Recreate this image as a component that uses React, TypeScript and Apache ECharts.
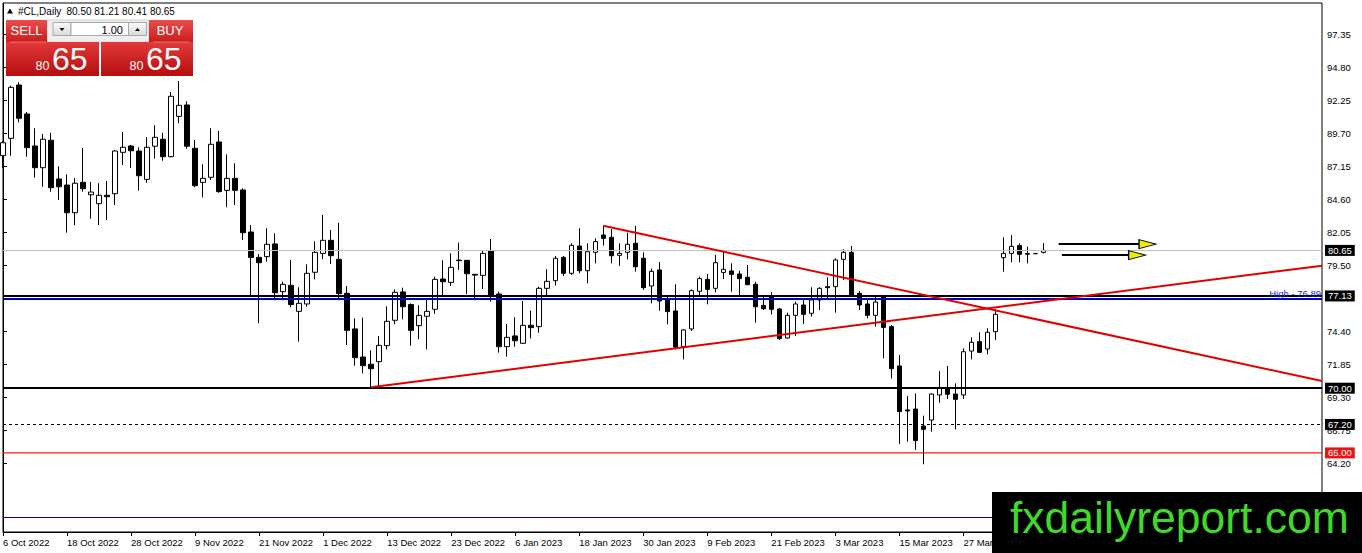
import React, { useEffect, useRef } from "react";
import * as echarts from "echarts";

// ---- Data (daily #CL candles, index 0 = 6 Oct 2022) ----
const opens = [
  87.97, 89.31, 93.43, 91.19, 88.72, 87.04, 89.16, 86.17, 85.70, 83.56,
  85.91, 84.95, 84.26, 84.91, 85.03, 88.23, 88.72, 88.33, 86.14, 88.70,
  89.24, 87.89, 91.01, 91.89, 88.54, 85.91, 86.30, 89.03, 85.29, 86.22,
  85.32, 82.07, 80.11, 80.17, 81.15, 77.46, 77.95, 75.94, 76.51, 78.96,
  80.42, 81.43, 79.96, 77.33, 74.58, 72.41, 71.85, 72.05, 73.29, 75.25,
  77.44, 76.46, 74.83, 75.56, 76.10, 78.44, 78.18, 79.90, 79.88, 78.80,
  78.72, 80.60, 77.28, 73.21, 74.04, 73.47, 74.86, 74.76, 77.72, 78.31,
  80.11, 78.88, 80.99, 79.08, 80.50, 81.84, 81.66, 80.27, 80.50, 81.20,
  80.04, 77.90, 79.14, 76.82, 75.97, 73.21, 74.58, 77.49, 78.41, 77.72,
  78.95, 79.06, 78.83, 78.57, 78.03, 76.40, 77.07, 76.12, 73.88, 75.63,
  76.43, 75.79, 76.82, 77.85, 77.85, 79.96, 80.50, 77.33, 76.51, 75.63,
  77.13, 74.76, 71.72, 68.32, 68.39, 67.08, 67.54, 69.48, 69.99, 69.55,
  69.48, 72.87, 73.60, 73.03, 74.37, 80.09, 80.42, 81.02, 80.40, 80.40,
  80.50,
];
const closes = [
  88.97, 93.25, 90.86, 88.59, 87.04, 89.24, 85.50, 85.57, 83.56, 85.84,
  85.42, 85.16, 84.91, 84.80, 88.33, 88.62, 88.35, 86.42, 88.62, 89.39,
  87.89, 92.56, 91.86, 88.70, 85.65, 86.22, 88.85, 85.19, 86.22, 85.29,
  82.02, 80.11, 79.70, 81.12, 77.38, 78.03, 76.46, 76.56, 78.88, 80.50,
  81.43, 80.24, 77.31, 74.47, 72.36, 71.74, 71.51, 73.31, 75.17, 77.41,
  76.30, 74.47, 75.63, 75.94, 78.41, 78.23, 79.34, 79.86, 78.85, 78.74,
  80.42, 77.20, 73.21, 73.93, 73.67, 74.86, 74.68, 77.72, 78.26, 80.04,
  78.88, 81.04, 79.08, 80.55, 81.33, 81.58, 80.24, 80.42, 81.12, 79.39,
  77.77, 79.03, 76.74, 75.92, 73.18, 74.50, 77.54, 78.47, 77.64, 79.70,
  79.19, 78.80, 78.47, 78.00, 76.30, 76.15, 76.10, 73.83, 75.63, 76.51,
  75.71, 76.82, 77.72, 77.77, 79.91, 80.50, 77.20, 76.43, 75.63, 76.66,
  74.70, 71.51, 68.19, 68.24, 65.95, 66.82, 69.55, 69.99, 69.53, 69.14,
  72.82, 73.55, 72.77, 74.32, 75.71, 80.42, 80.96, 80.35, 80.36, 80.40,
  80.65,
];
const lows = [
  87.03, 87.97, 90.55, 87.89, 86.27, 85.57, 85.19, 84.55, 82.02, 82.59,
  85.19, 83.10, 82.61, 83.00, 84.16, 87.25, 87.02, 85.27, 85.88, 87.74,
  87.58, 87.84, 90.47, 88.51, 85.53, 84.75, 86.09, 85.11, 83.98, 84.16,
  81.45, 77.15, 75.01, 79.78, 76.82, 76.95, 76.25, 73.60, 76.30, 78.41,
  79.96, 79.60, 76.82, 73.34, 71.74, 71.15, 70.07, 70.12, 73.00, 74.94,
  75.32, 73.29, 73.78, 73.00, 75.74, 77.08, 77.90, 79.14, 77.28, 76.82,
  77.67, 76.69, 72.75, 72.44, 73.21, 73.42, 73.85, 74.29, 77.20, 77.93,
  78.67, 78.75, 78.88, 78.11, 79.65, 81.02, 79.65, 79.45, 79.96, 79.01,
  77.59, 76.56, 75.99, 74.94, 73.00, 72.23, 74.42, 77.20, 76.48, 77.41,
  78.44, 77.46, 77.20, 77.98, 75.07, 76.04, 75.71, 73.73, 73.83, 74.04,
  74.96, 75.53, 76.04, 76.82, 75.84, 78.36, 77.07, 76.04, 75.40, 74.76,
  72.31, 70.76, 65.69, 65.87, 65.23, 64.12, 66.64, 68.88, 69.17, 66.82,
  69.17, 72.23, 72.75, 72.62, 73.73, 79.01, 79.73, 79.73, 79.65, 80.38,
  80.41,
];
const highs = [
  89.10, 93.38, 93.64, 91.35, 90.09, 89.65, 89.75, 87.15, 86.53, 86.25,
  88.56, 85.94, 85.84, 86.01, 88.41, 89.80, 88.80, 88.62, 89.41, 90.32,
  89.75, 92.89, 93.74, 92.17, 89.18, 87.30, 90.09, 89.88, 88.07, 87.38,
  85.45, 82.61, 80.37, 82.36, 81.97, 78.23, 79.91, 77.80, 79.57, 81.35,
  83.39, 82.23, 82.79, 77.90, 75.40, 75.45, 72.93, 74.04, 76.33, 77.64,
  77.77, 76.56, 76.41, 76.89, 78.62, 79.88, 80.42, 81.25, 79.92, 78.82,
  80.60, 81.53, 77.46, 74.96, 75.48, 76.74, 76.00, 77.85, 79.19, 80.22,
  80.22, 81.20, 82.36, 81.20, 81.58, 82.56, 82.30, 81.20, 82.02, 82.56,
  80.50, 79.24, 79.75, 77.20, 78.03, 74.55, 77.64, 78.62, 78.83, 80.30,
  80.55, 79.65, 79.08, 79.52, 78.23, 77.20, 77.43, 76.20, 75.84, 76.69,
  76.82, 77.80, 77.80, 78.57, 80.04, 80.73, 80.99, 77.51, 76.95, 77.07,
  77.20, 74.88, 72.57, 69.40, 69.60, 67.88, 69.60, 71.33, 71.72, 70.38,
  73.08, 73.93, 74.32, 74.63, 76.12, 81.66, 81.84, 81.20, 80.94, 80.42,
  81.21,
];

// x tick labels, one every 8 bars
const xTickLabels = [
  "6 Oct 2022", "18 Oct 2022", "28 Oct 2022", "9 Nov 2022", "21 Nov 2022",
  "1 Dec 2022", "13 Dec 2022", "23 Dec 2022", "6 Jan 2023", "18 Jan 2023",
  "30 Jan 2023", "9 Feb 2023", "21 Feb 2023", "3 Mar 2023", "15 Mar 2023",
  "27 Mar 2023",
];
const yTickValues = [64.2, 66.75, 69.3, 71.85, 74.4, 79.5, 82.05, 84.6, 87.15, 89.7, 92.25, 94.8, 97.35];

// drawn objects (bar index, price)
const trendUp = [[46, 70.07], [164.8, 79.47]];
const trendDown = [[75, 82.56], [164.8, 70.56]];
const arrowShaft1 = [[131.9, 81.14], [142.0, 81.14]];
const arrowShaft2 = [[132.3, 80.29], [140.8, 80.29]];
const arrowHeads = [[143.0, 81.14], [141.7, 80.29]];

// horizontal levels
const bidLevel = 80.65;
const resistLevel = 77.13;
const highLevel = 76.89;
const supportLevel = 70.0;
const dashedLevel = 67.2;
const redLevel = 65.0;
const lowLineLevel = 60.02;
const xSpan = [0, 164.8];

const FONT = "'Liberation Sans', Arial, sans-serif";

function priceLabel(bg: string) {
  return {
    show: true,
    position: "end",
    distance: 3,
    formatter: (p: any) => Number(p.value).toFixed(2),
    color: "#fff",
    backgroundColor: bg,
    padding: [1, 3, 0, 3],
    fontSize: 9.5,
    lineHeight: 10,
    fontFamily: FONT,
  };
}

function buildOption() {
  const n = opens.length;
  const candles = opens.map((o, i) => [i, o, closes[i], lows[i], highs[i]]);
  const last = n - 1;
  const header = `${opens[last].toFixed(2)} ${highs[last].toFixed(2)} ${lows[last].toFixed(2)} ${closes[last].toFixed(2)}`;
  const priceStr = closes[last].toFixed(2);
  const bigPart = priceStr.split(".")[1];
  const smallPart = priceStr.split(".")[0];

  const redGrad = () =>
    new echarts.graphic.LinearGradient(0, 0, 0, 1, [
      { offset: 0, color: "#e23a3a" },
      { offset: 1, color: "#b50d0d" },
    ]);
  const btnGrad = () =>
    new echarts.graphic.LinearGradient(0, 0, 0, 1, [
      { offset: 0, color: "#ea4d4d" },
      { offset: 1, color: "#cc1d1d" },
    ]);
  const grayGrad = () =>
    new echarts.graphic.LinearGradient(0, 0, 0, 1, [
      { offset: 0, color: "#fbfbfb" },
      { offset: 1, color: "#d9d9d9" },
    ]);

  const graphic: any[] = [
    // header
    { type: "polygon", z: 100, shape: { points: [[7, 13.5], [13, 13.5], [10, 8.5]] }, style: { fill: "#000" } },
    { type: "text", z: 100, x: 18, y: 11.5, style: { text: "#CL,Daily", fontSize: 10, fontFamily: FONT, fill: "#000", verticalAlign: "middle" } },
    { type: "text", z: 100, x: 66.5, y: 11.5, style: { text: header, fontSize: 10, fontFamily: FONT, fill: "#000", verticalAlign: "middle" } },
    // trading panel
    { type: "rect", z: 100, shape: { x: 47, y: 20, width: 102, height: 22 }, style: { fill: "#eeeeee", stroke: "#d0d0d0", lineWidth: 1 } },
    { type: "rect", z: 100, shape: { x: 6, y: 20, width: 41, height: 22 }, style: { fill: btnGrad() } },
    { type: "rect", z: 100, shape: { x: 149, y: 20, width: 44, height: 22 }, style: { fill: btnGrad() } },
    { type: "text", z: 101, x: 26.5, y: 30.5, style: { text: "SELL", fontSize: 13, fontFamily: FONT, fill: "#fff", align: "center", verticalAlign: "middle" } },
    { type: "text", z: 101, x: 170, y: 30.5, style: { text: "BUY", fontSize: 13, fontFamily: FONT, fill: "#fff", align: "center", verticalAlign: "middle" } },
    { type: "rect", z: 101, shape: { x: 53, y: 22.5, width: 18, height: 13 }, style: { fill: grayGrad(), stroke: "#a8a8a8", lineWidth: 1 } },
    { type: "rect", z: 101, shape: { x: 71, y: 22.5, width: 57.5, height: 13 }, style: { fill: "#fff", stroke: "#a8a8a8", lineWidth: 1 } },
    { type: "rect", z: 101, shape: { x: 128.5, y: 22.5, width: 18, height: 13 }, style: { fill: grayGrad(), stroke: "#a8a8a8", lineWidth: 1 } },
    { type: "polygon", z: 102, shape: { points: [[59.5, 28], [64.5, 28], [62, 31]] }, style: { fill: "#000" } },
    { type: "polygon", z: 102, shape: { points: [[135, 31], [140, 31], [137.5, 28]] }, style: { fill: "#000" } },
    { type: "text", z: 102, x: 123, y: 29.5, style: { text: "1.00", fontSize: 11, fontFamily: FONT, fill: "#000", align: "right", verticalAlign: "middle" } },
    { type: "rect", z: 100, shape: { x: 6, y: 42, width: 93, height: 34 }, style: { fill: redGrad() } },
    { type: "rect", z: 100, shape: { x: 101, y: 42, width: 92, height: 34 }, style: { fill: redGrad() } },
    { type: "line", z: 101, shape: { x1: 10, y1: 42, x2: 46, y2: 42 }, style: { stroke: "rgba(255,255,255,0.35)", lineWidth: 1 } },
    { type: "line", z: 101, shape: { x1: 153, y1: 42, x2: 189, y2: 42 }, style: { stroke: "rgba(255,255,255,0.35)", lineWidth: 1 } },
    { type: "text", z: 101, x: 49.5, y: 65.8, style: { text: smallPart, fontSize: 12.5, fontFamily: FONT, fill: "#fff", align: "right", verticalAlign: "middle" } },
    { type: "text", z: 101, x: 52, y: 59, style: { text: bigPart, fontSize: 32, fontFamily: FONT, fill: "#fff", verticalAlign: "middle" } },
    { type: "text", z: 101, x: 143.5, y: 65.8, style: { text: smallPart, fontSize: 12.5, fontFamily: FONT, fill: "#fff", align: "right", verticalAlign: "middle" } },
    { type: "text", z: 101, x: 146, y: 59, style: { text: bigPart, fontSize: 32, fontFamily: FONT, fill: "#fff", verticalAlign: "middle" } },
    // watermark
    { type: "rect", z: 200, shape: { x: 992, y: 492, width: 370, height: 61 }, style: { fill: "#000" } },
    { type: "text", z: 201, x: 1010, y: 517.2, style: { text: "fxdailyreport.com", fontSize: 44.5, fontFamily: FONT, fill: "#3fd92a", verticalAlign: "middle" } },
  ];

  return {
    animation: false,
    backgroundColor: "#fff",
    grid: { left: 3, top: 3, right: 40, bottom: 21, show: true, borderColor: "#000", borderWidth: 1, backgroundColor: "transparent" },
    xAxis: {
      type: "value",
      min: 0,
      max: 164.8,
      interval: 8,
      splitLine: { show: false },
      axisLine: { show: true, lineStyle: { color: "#000", width: 1 } },
      axisTick: { show: true, length: 4, lineStyle: { color: "#000" } },
      axisLabel: {
        align: "left",
        margin: 5,
        fontSize: 9.5,
        color: "#000",
        fontFamily: FONT,
        showMaxLabel: false,
        formatter: (v: number) => (v % 8 === 0 ? xTickLabels[v / 8] ?? "" : ""),
      },
    },
    yAxis: {
      type: "value",
      position: "right",
      min: 58.888,
      max: 99.769,
      splitLine: { show: false },
      axisLine: { show: true, lineStyle: { color: "#000", width: 1 } },
      axisTick: { show: true, length: 4, customValues: yTickValues, lineStyle: { color: "#000" } },
      axisLabel: {
        customValues: yTickValues,
        formatter: (v: number) => v.toFixed(2),
        fontSize: 9.5,
        color: "#000",
        margin: 5,
        fontFamily: FONT,
      },
    },
    graphic,
    series: [
      {
        type: "line",
        name: "level65",
        data: xSpan.map((x) => [x, redLevel]),
        symbol: "none",
        silent: true,
        z: 3,
        clip: false,
        lineStyle: { color: "#ff1a1a", width: 1.2 },
        endLabel: {
          show: true,
          distance: 3,
          formatter: () => redLevel.toFixed(2),
          color: "#fff",
          backgroundColor: "#ee1111",
          padding: [1, 3, 0, 3],
          fontSize: 9.5,
          lineHeight: 10,
          fontFamily: FONT,
        },
      },
      {
        type: "candlestick",
        data: candles,
        barWidth: 5,
        z: 4,
        itemStyle: { color: "#ffffff", color0: "#000000", borderColor: "#000000", borderColor0: "#000000", borderWidth: 1 },
        markLine: {
          silent: true,
          animation: false,
          symbol: ["none", "none"],
          data: [
            { yAxis: bidLevel, lineStyle: { color: "#c0c0c0", width: 1, type: "solid" }, label: priceLabel("#000") },
            { yAxis: highLevel, lineStyle: { color: "#0000c8", width: 2, type: "solid" }, label: { show: true, position: "insideEndTop", distance: 1, formatter: `High - ${highLevel.toFixed(2)}`, color: "#2424d6", fontSize: 9.5, fontFamily: FONT } },
            { yAxis: resistLevel, lineStyle: { color: "#000", width: 2, type: "solid" }, label: priceLabel("#000") },
            { yAxis: supportLevel, lineStyle: { color: "#000", width: 2, type: "solid" }, label: priceLabel("#000") },
            { yAxis: dashedLevel, lineStyle: { color: "#000", width: 1, type: [3, 3] }, label: priceLabel("#000") },
            { yAxis: lowLineLevel, lineStyle: { color: "#000080", width: 1, type: "solid" }, label: { show: false } },
          ],
        },
      },
      { type: "line", data: trendUp, symbol: "none", silent: true, lineStyle: { color: "#e00000", width: 2 }, z: 6 },
      { type: "line", data: trendDown, symbol: "none", silent: true, lineStyle: { color: "#e00000", width: 2 }, z: 6 },
      { type: "line", data: arrowShaft1, symbol: "none", silent: true, lineStyle: { color: "#000", width: 2 }, z: 6 },
      { type: "line", data: arrowShaft2, symbol: "none", silent: true, lineStyle: { color: "#000", width: 2 }, z: 6 },
      {
        type: "scatter",
        data: arrowHeads,
        symbol: "triangle",
        symbolSize: [9, 17],
        symbolRotate: -90,
        silent: true,
        z: 7,
        itemStyle: { color: "#eded00", borderColor: "#000", borderWidth: 1, opacity: 1 },
      },
    ],
  };
}

export default function App() {
  const ref = useRef<HTMLDivElement>(null);
  useEffect(() => {
    document.body.style.margin = "0";
    const chart = echarts.init(ref.current!, null, { renderer: "svg" });
    chart.setOption(buildOption() as any);
    return () => chart.dispose();
  }, []);
  return (
    <div
      ref={ref}
      style={{ position: "absolute", left: 0, top: 0, width: 1362, height: 553, background: "#fff" }}
    />
  );
}
